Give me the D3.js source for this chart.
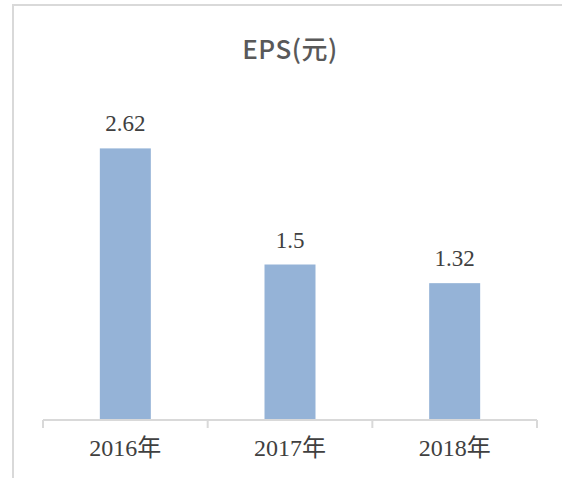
<!DOCTYPE html>
<html>
<head>
<meta charset="utf-8">
<script src="https://cdn.jsdelivr.net/npm/d3@7/dist/d3.min.js"></script>
<style>
  html, body { margin: 0; padding: 0; background: #fff; }
  svg { display: block; }
</style>
</head>
<body>
<div id="chart"></div>
<script>
// chart data
const categories = ['2016年', '2017年', '2018年'];
const epsValues = [2.62, 1.5, 1.32];
const valueLabels = ['2.62', '1.5', '1.32'];
const chartTitle = 'EPS(元)';

const width = 562;
const height = 478;
const plot = { left: 43, right: 537, top: 109, bottom: 420 };

const svg = d3.select('#chart').append('svg')
    .attr('width', width)
    .attr('height', height);

// outer frame (only top and left edges are visible)
svg.append('path')
    .attr('d', 'M13,' + height + 'V5H' + width)
    .attr('fill', 'none')
    .attr('stroke', '#d9d9d9')
    .attr('stroke-width', 2);

svg.append('text')
    .attr('x', 290)
    .attr('y', 59)
    .attr('text-anchor', 'middle')
    .style('fill', '#595959')
    .style('font-family', '"Noto Sans CJK SC", "Noto Sans", sans-serif')
    .style('font-size', '26px')
    .style('font-weight', '500')
    .style('letter-spacing', '0.5px')
    .text(chartTitle);

const x = d3.scaleBand()
    .domain(categories)
    .range([plot.left, plot.right])
    .paddingInner(0)
    .paddingOuter(0);

const y = d3.scaleLinear()
    .domain([0, 3])
    .range([plot.bottom, plot.top]);

const barWidth = 51;

svg.selectAll('.bar')
    .data(epsValues)
    .enter()
    .append('rect')
    .attr('class', 'bar')
    .attr('x', (d, i) => x(categories[i]) + x.bandwidth() / 2 - barWidth / 2)
    .attr('y', d => y(d))
    .attr('width', barWidth)
    .attr('height', d => y(0) - y(d))
    .attr('fill', '#95b3d7');

svg.selectAll('.value-label')
    .data(epsValues)
    .enter()
    .append('text')
    .attr('class', 'value-label')
    .attr('x', (d, i) => x(categories[i]) + x.bandwidth() / 2)
    .attr('y', d => y(d) - 17)
    .attr('text-anchor', 'middle')
    .style('fill', '#404040')
    .style('font-family', '"Liberation Serif", "Times New Roman", serif')
    .style('font-size', '23px')
    .text((d, i) => valueLabels[i]);

// category axis with boundary ticks
const axisG = svg.append('g')
    .attr('transform', 'translate(0,' + plot.bottom + ')');

axisG.append('line')
    .attr('x1', plot.left)
    .attr('x2', plot.right)
    .attr('stroke', '#d9d9d9')
    .attr('stroke-width', 2);

const tickXs = categories.map(c => x(c)).concat([plot.right]);
axisG.selectAll('.tick-mark')
    .data(tickXs)
    .enter()
    .append('line')
    .attr('class', 'tick-mark')
    .attr('x1', d => d)
    .attr('x2', d => d)
    .attr('y1', 0)
    .attr('y2', 8)
    .attr('stroke', '#d9d9d9')
    .attr('stroke-width', 2);

axisG.selectAll('.cat-label')
    .data(categories)
    .enter()
    .append('text')
    .attr('class', 'cat-label')
    .attr('x', d => x(d) + x.bandwidth() / 2)
    .attr('y', 36)
    .attr('text-anchor', 'middle')
    .style('fill', '#404040')
    .style('font-family', '"Liberation Serif", "Times New Roman", "Noto Sans CJK SC", serif')
    .style('font-size', '24px')
    .text(d => d);
</script>
</body>
</html>
